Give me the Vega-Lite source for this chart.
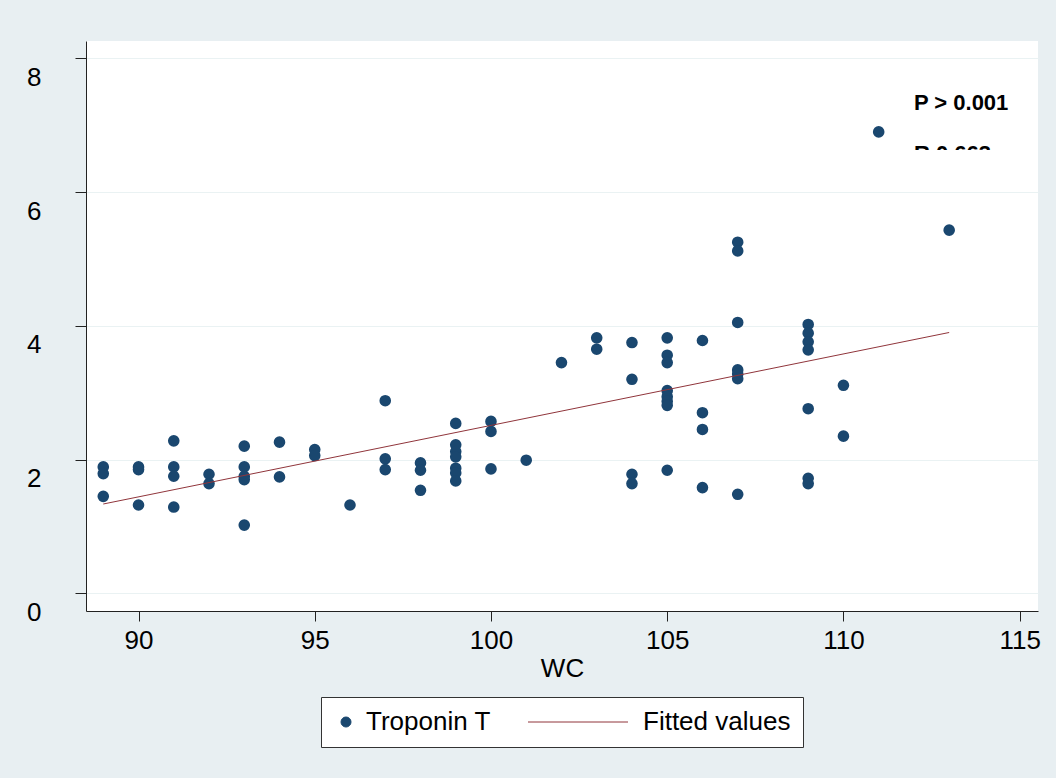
{
  "$schema": "https://vega.github.io/schema/vega-lite/v6.json",
  "width": 952,
  "height": 570,
  "autosize": "none",
  "padding": {"left": 86, "top": 41, "right": 18, "bottom": 167},
  "background": "#E8EFF2",
  "config": {
    "font": "Liberation Sans",
    "view": {"fill": "white", "stroke": null},
    "legend": {"layout": {"bottom": {"anchor": "middle"}}},
    "axis": {
      "domainColor": "#222222",
      "domainWidth": 1,
      "tickColor": "#222222",
      "tickWidth": 1,
      "labelFont": "Liberation Sans",
      "labelFontSize": 26,
      "labelColor": "#000000",
      "titleFont": "Liberation Sans",
      "titleFontSize": 26,
      "titleFontWeight": "normal",
      "titleColor": "#000000"
    }
  },
  "datasets": {
    "troponin": [
      {"WC": 89, "TnT": 1.89}, {"WC": 89, "TnT": 1.79}, {"WC": 89, "TnT": 1.45},
      {"WC": 90, "TnT": 1.89}, {"WC": 90, "TnT": 1.85}, {"WC": 90, "TnT": 1.32},
      {"WC": 91, "TnT": 2.28}, {"WC": 91, "TnT": 1.89}, {"WC": 91, "TnT": 1.75}, {"WC": 91, "TnT": 1.29},
      {"WC": 92, "TnT": 1.78}, {"WC": 92, "TnT": 1.64},
      {"WC": 93, "TnT": 2.2}, {"WC": 93, "TnT": 1.89}, {"WC": 93, "TnT": 1.75}, {"WC": 93, "TnT": 1.7}, {"WC": 93, "TnT": 1.02},
      {"WC": 94, "TnT": 2.26}, {"WC": 94, "TnT": 1.74},
      {"WC": 95, "TnT": 2.15}, {"WC": 95, "TnT": 2.06},
      {"WC": 96, "TnT": 1.32},
      {"WC": 97, "TnT": 2.88}, {"WC": 97, "TnT": 2.01}, {"WC": 97, "TnT": 1.85},
      {"WC": 98, "TnT": 1.95}, {"WC": 98, "TnT": 1.84}, {"WC": 98, "TnT": 1.54},
      {"WC": 99, "TnT": 2.54}, {"WC": 99, "TnT": 2.22}, {"WC": 99, "TnT": 2.12}, {"WC": 99, "TnT": 2.04}, {"WC": 99, "TnT": 1.87}, {"WC": 99, "TnT": 1.8}, {"WC": 99, "TnT": 1.68},
      {"WC": 100, "TnT": 2.57}, {"WC": 100, "TnT": 2.42}, {"WC": 100, "TnT": 1.86},
      {"WC": 101, "TnT": 1.99},
      {"WC": 102, "TnT": 3.45},
      {"WC": 103, "TnT": 3.82}, {"WC": 103, "TnT": 3.65},
      {"WC": 104, "TnT": 3.75}, {"WC": 104, "TnT": 3.2}, {"WC": 104, "TnT": 1.78}, {"WC": 104, "TnT": 1.64},
      {"WC": 105, "TnT": 3.82}, {"WC": 105, "TnT": 3.56}, {"WC": 105, "TnT": 3.45}, {"WC": 105, "TnT": 3.03}, {"WC": 105, "TnT": 2.94}, {"WC": 105, "TnT": 2.87}, {"WC": 105, "TnT": 2.81}, {"WC": 105, "TnT": 1.84},
      {"WC": 106, "TnT": 3.78}, {"WC": 106, "TnT": 2.7}, {"WC": 106, "TnT": 2.45}, {"WC": 106, "TnT": 1.58},
      {"WC": 107, "TnT": 5.25}, {"WC": 107, "TnT": 5.12}, {"WC": 107, "TnT": 4.05}, {"WC": 107, "TnT": 3.34}, {"WC": 107, "TnT": 3.28}, {"WC": 107, "TnT": 3.21}, {"WC": 107, "TnT": 1.48},
      {"WC": 109, "TnT": 4.02}, {"WC": 109, "TnT": 3.89}, {"WC": 109, "TnT": 3.76}, {"WC": 109, "TnT": 3.64}, {"WC": 109, "TnT": 2.76}, {"WC": 109, "TnT": 1.72}, {"WC": 109, "TnT": 1.64},
      {"WC": 110, "TnT": 3.11}, {"WC": 110, "TnT": 2.35},
      {"WC": 111, "TnT": 6.9},
      {"WC": 113, "TnT": 5.43}
    ],
    "fitted": [
      {"WC": 89, "fit": 1.335},
      {"WC": 113, "fit": 3.9}
    ]
  },
  "encoding": {
    "x": {
      "type": "quantitative",
      "scale": {"domain": [88.51, 115.52], "nice": false, "zero": false},
      "axis": {
        "title": "WC",
        "values": [90, 95, 100, 105, 110, 115],
        "grid": false,
        "tickSize": 10,
        "labelPadding": 6,
        "titlePadding": 2
      }
    },
    "y": {
      "type": "quantitative",
      "scale": {"domain": [-0.265, 8.259], "nice": false, "zero": false},
      "axis": {
        "title": null,
        "values": [0, 2, 4, 6, 8],
        "grid": true,
        "gridColor": "#EAF2F3",
        "gridWidth": 1,
        "tickSize": 11,
        "labelPadding": 34,
        "labelOffset": 19
      }
    }
  },
  "layer": [
    {
      "data": {"name": "troponin"},
      "transform": [{"calculate": "'Troponin T'", "as": "series"}],
      "mark": {"type": "point", "filled": true, "opacity": 1, "size": 135},
      "encoding": {
        "x": {"field": "WC"},
        "y": {"field": "TnT"},
        "color": {
          "field": "series",
          "type": "nominal",
          "scale": {"domain": ["Troponin T", "Fitted values"], "range": ["#1A476F", "#90353B"]},
          "legend": {
            "title": null,
            "orient": "bottom",
            "direction": "horizontal",
            "offset": 16,
            "strokeColor": "#333333",
            "fillColor": "white",
            "padding": 12,
            "labelFont": "Liberation Sans",
            "labelFontSize": 26,
            "labelColor": "#000000",
            "labelOffset": 7,
            "symbolSize": 100,
            "symbolStrokeWidth": 1,
            "columnPadding": 35,
            "encode": {
              "symbols": {
                "update": {
                  "stroke": {"scale": "color", "field": "value"}
                }
              }
            }
          }
        },
        "shape": {
          "field": "series",
          "type": "nominal",
          "scale": {"domain": ["Troponin T", "Fitted values"], "range": ["circle", "M-19,0H1"]}
        }
      }
    },
    {
      "data": {"name": "fitted"},
      "transform": [{"calculate": "'Fitted values'", "as": "series"}],
      "mark": {"type": "line", "strokeWidth": 1},
      "encoding": {
        "x": {"field": "WC"},
        "y": {"field": "fit"},
        "color": {"field": "series", "type": "nominal"}
      }
    },
    {
      "data": {"values": [{}]},
      "mark": {"type": "text", "align": "left", "baseline": "alphabetic", "font": "Liberation Sans", "fontWeight": "bold", "fontSize": 22, "color": "#000000"},
      "encoding": {
        "x": {"datum": 112.0},
        "y": {"datum": 7.227},
        "text": {"value": "P > 0.001"}
      }
    },
    {
      "data": {"values": [{}]},
      "mark": {"type": "text", "align": "left", "baseline": "alphabetic", "font": "Liberation Sans", "fontWeight": "bold", "fontSize": 22, "color": "#000000"},
      "encoding": {
        "x": {"datum": 112.0},
        "y": {"datum": 6.464},
        "text": {"value": "R 0.663"}
      }
    },
    {
      "data": {"values": [{}]},
      "mark": {"type": "rect", "fill": "white"},
      "encoding": {
        "x": {"datum": 111.8},
        "x2": {"datum": 115.4},
        "y": {"datum": 6.63},
        "y2": {"datum": 6.25}
      }
    }
  ]
}
